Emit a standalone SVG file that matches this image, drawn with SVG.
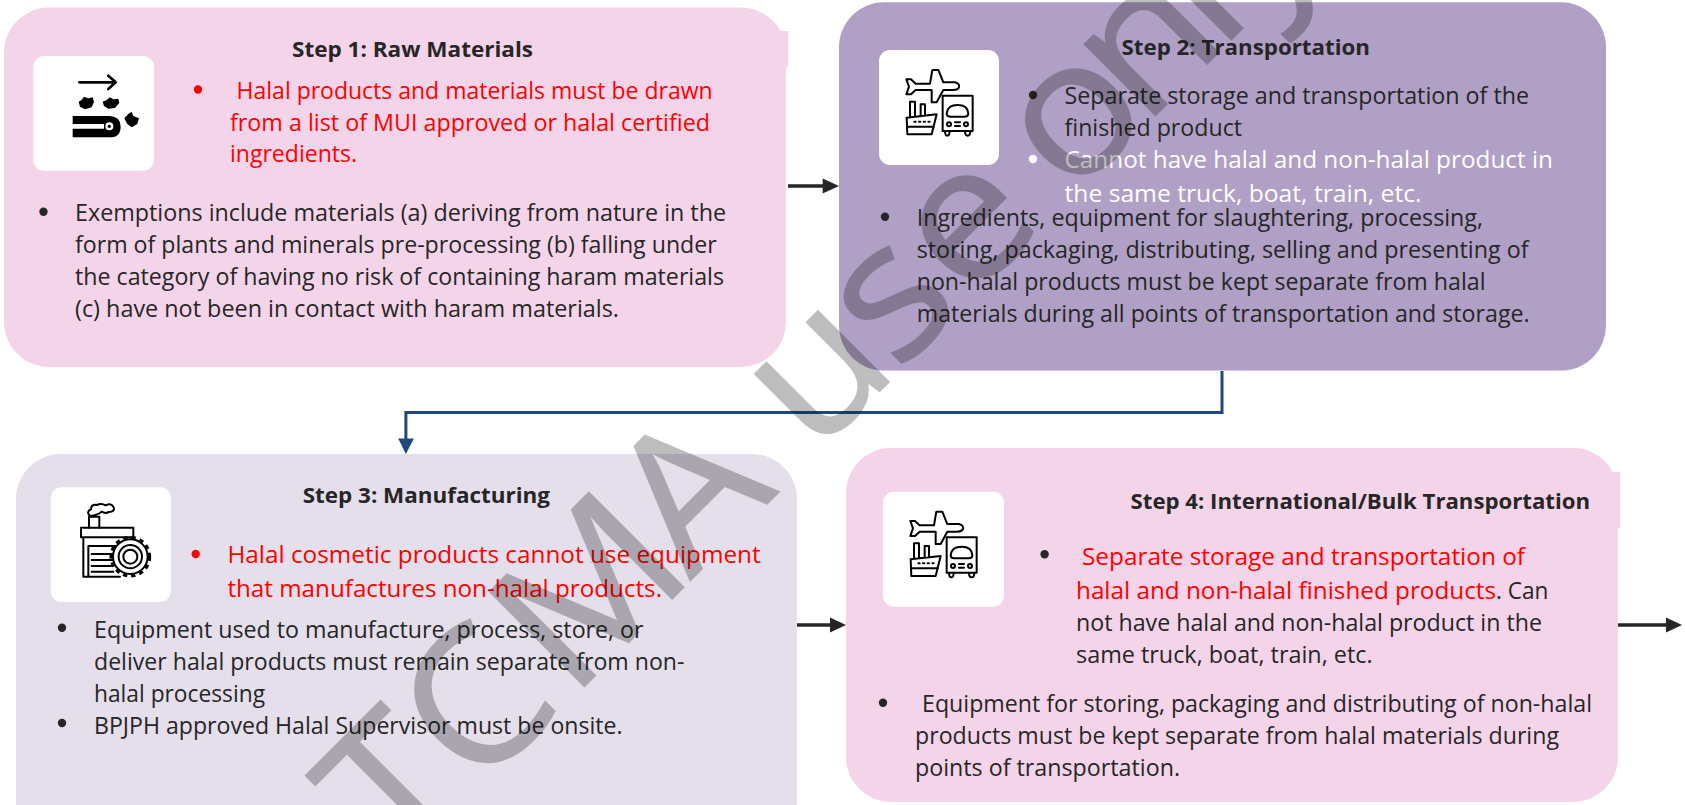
<svg xmlns="http://www.w3.org/2000/svg" width="1685" height="805" viewBox="0 0 1685 805">
<style>
text{font-family:"Open Sans","Noto Sans","Liberation Sans",sans-serif;font-size:23.2px;fill:#262626}
.t{font-weight:700;font-size:21.8px}
.r{fill:#ff0000}
.w{fill:#ffffff}
.pink{fill:#f4d4e9}
.purple{fill:#b0a0c5}
.lav{fill:#e4dfeb}
.tile{fill:#ffffff}
.ic{fill:none;stroke:#000;stroke-width:6;stroke-linejoin:round;stroke-linecap:round}
text.wm{font-size:188px;fill:#101010;stroke:#101010;stroke-width:1.5;opacity:.27}
.bk{fill:#262626}
.conn{fill:none;stroke:#262626;stroke-width:3.3}
.blue{fill:none;stroke:#1f497d;stroke-width:3}
</style>
<defs>
<g id="transport">
<path class="ic" d="M94 103L108 103L122 116L165 116L172 75L190 75L205 112L240 112Q255 116 252 127Q248 135 235 135L205 135L185 172L170 172L170 135L122 135L108 148L94 148L102 125Z"/>
<path class="ic" d="M105 215V170H120V215M137 212V178H150V210M95 218L185 208L170 268H97ZM97 245H177"/>
<path class="ic" stroke-dasharray="4 10" d="M118 230H165"/>
<path class="ic" d="M203 152H293V258H203ZM215 205Q218 180 248 180Q278 180 280 205Q280 215 270 215H225Q215 215 215 205ZM240 232H255M240 243H255M210 258Q210 272 217 272Q224 272 224 258M270 258Q270 272 278 272Q286 272 286 258"/>
<circle class="ic" cx="222" cy="238" r="6"/>
<circle class="ic" cx="273" cy="238" r="6"/>
</g>
</defs>

<g id="connectors">
<path class="conn" d="M788 186H824"/>
<path class="bk" d="M822.7 178.5L839 186L822.7 193.5Z"/>
<path class="blue" d="M1222 371V412.5H405.9V440"/>
<path d="M398.2 438.4H413.9L405.9 454Z" fill="#1f497d"/>
<path class="conn" d="M797 625H832"/>
<path class="bk" d="M830 617.5L846 625L830 632.5Z"/>
<path class="conn" d="M1618 625H1668"/>
<path class="bk" d="M1666 617.5L1682 625L1666 632.5Z"/>
</g>

<g id="step2">
<rect class="purple" x="839" y="2.3" width="767" height="368.3" rx="45"/>
<rect class="tile" x="879" y="50" width="120" height="115" rx="11"/>
<use href="#transport" transform="translate(875 45) scale(.3333)"/>
<text class="t" x="1121.5" y="55" textLength="248.5" lengthAdjust="spacingAndGlyphs">Step 2: Transportation</text>
<circle class="bk" cx="1033" cy="95" r="4.2"/>
<text x="1064.5" y="104" textLength="464.5" lengthAdjust="spacingAndGlyphs">Separate storage and transportation of the</text>
<text x="1064.5" y="136" textLength="177.5" lengthAdjust="spacingAndGlyphs">finished product</text>
<circle class="w" cx="1033" cy="159" r="4.2"/>
<text class="w" x="1064.5" y="168.3" textLength="488.5" lengthAdjust="spacingAndGlyphs">Cannot have halal and non-halal product in</text>
<text class="w" x="1064.5" y="201.7" textLength="357" lengthAdjust="spacingAndGlyphs">the same truck, boat, train, etc.</text>
<circle class="bk" cx="885" cy="216.7" r="4.2"/>
<text x="916.7" y="226" textLength="566.3" lengthAdjust="spacingAndGlyphs">Ingredients, equipment for slaughtering, processing,</text>
<text x="916.7" y="258" textLength="611.8" lengthAdjust="spacingAndGlyphs">storing, packaging, distributing, selling and presenting of</text>
<text x="916.7" y="290" textLength="568.8" lengthAdjust="spacingAndGlyphs">non-halal products must be kept separate from halal</text>
<text x="916.7" y="321.7" textLength="612.9" lengthAdjust="spacingAndGlyphs">materials during all points of transportation and storage.</text>
</g>

<g id="step3">
<rect class="lav" x="16" y="454" width="781" height="400" rx="45"/>
<rect class="tile" x="50.7" y="487.3" width="120.3" height="114.7" rx="11"/>
<g transform="translate(45 480) scale(.3333)">
<path class="ic" d="M132 143V110H163V143M135 108Q122 95 138 88Q138 72 155 75Q170 68 182 76Q200 68 206 82Q210 96 192 96Q180 102 170 95Q160 105 135 108Z"/>
<path class="ic" d="M108 143H265V172H108ZM115 172V290H225M130 290V198H212M140 222H205M140 240H205M140 258H205M140 275H205"/>
<circle cx="256" cy="230" r="52" fill="#fff" stroke="#000" stroke-width="6"/>
<circle cx="256" cy="230" r="58" fill="none" stroke="#000" stroke-width="9" stroke-dasharray="13 12"/>
<circle cx="256" cy="230" r="35" fill="none" stroke="#000" stroke-width="6"/>
<circle cx="256" cy="230" r="21" fill="none" stroke="#000" stroke-width="6"/>
</g>
<text class="t" x="302.7" y="503" textLength="247.3" lengthAdjust="spacingAndGlyphs">Step 3: Manufacturing</text>
<circle style="fill:#f00" cx="195.7" cy="554" r="4.2"/>
<text class="r" x="227.4" y="563.3" textLength="533.3" lengthAdjust="spacingAndGlyphs">Halal cosmetic products cannot use equipment</text>
<text class="r" x="227.4" y="596.7" textLength="434.6" lengthAdjust="spacingAndGlyphs">that manufactures non-halal products.</text>
<circle class="bk" cx="62" cy="627.7" r="4.2"/>
<text x="94" y="638" textLength="549.5" lengthAdjust="spacingAndGlyphs">Equipment used to manufacture, process, store, or</text>
<text x="94" y="670" textLength="590.4" lengthAdjust="spacingAndGlyphs">deliver halal products must remain separate from non-</text>
<text x="94" y="701.7" textLength="171" lengthAdjust="spacingAndGlyphs">halal processing</text>
<circle class="bk" cx="62" cy="723" r="4.2"/>
<text x="94" y="734" textLength="528.6" lengthAdjust="spacingAndGlyphs">BPJPH approved Halal Supervisor must be onsite.</text>
</g>

<g id="step4">
<rect class="pink" x="846" y="448" width="772" height="354" rx="45"/>
<rect class="pink" x="1600" y="472" width="20" height="56"/>
<rect class="tile" x="883" y="491.7" width="121" height="115" rx="11"/>
<use href="#transport" transform="translate(879 486.7) scale(.3333)"/>
<text class="t" x="1130.6" y="508.7" textLength="459.4" lengthAdjust="spacingAndGlyphs">Step 4: International/Bulk Transportation</text>
<circle class="bk" cx="1044.6" cy="554.3" r="4.2"/>
<text class="r" x="1082" y="565" textLength="443" lengthAdjust="spacingAndGlyphs">Separate storage and transportation of</text>
<text class="r" x="1076" y="599" textLength="420" lengthAdjust="spacingAndGlyphs">halal and non-halal finished products</text>
<text x="1496" y="599" textLength="52.4" lengthAdjust="spacingAndGlyphs">. Can</text>
<text x="1076" y="631" textLength="466" lengthAdjust="spacingAndGlyphs">not have halal and non-halal product in the</text>
<text x="1076" y="663" textLength="296.6" lengthAdjust="spacingAndGlyphs">same truck, boat, train, etc.</text>
<circle class="bk" cx="883" cy="702.7" r="4.2"/>
<text x="922" y="712" textLength="670" lengthAdjust="spacingAndGlyphs">Equipment for storing, packaging and distributing of non-halal</text>
<text x="915" y="744" textLength="644" lengthAdjust="spacingAndGlyphs">products must be kept separate from halal materials during</text>
<text x="915" y="776" textLength="265" lengthAdjust="spacingAndGlyphs">points of transportation.</text>
</g>

<g id="watermark">
<text class="wm" transform="translate(399 872) rotate(-45) scale(1.06 1)" x="0.4 103.3 229.2 388.6 520 554.8 665.4 758.8 875 897.3 993.4 1094.4 1146.2">TCMA use only</text>
</g>

<g id="step1">
<rect class="pink" x="4" y="7.5" width="782" height="359.5" rx="45"/>
<rect class="pink" x="770" y="31" width="18" height="36"/>
<rect class="tile" x="33.3" y="56" width="120.7" height="114.7" rx="11"/>
<g transform="translate(30 50) scale(.3333)">
<path class="ic" style="stroke-width:8" d="M148 97H255M235 77L257 97L235 117"/>
<path d="M146 155L155 150L162 140L175 145L188 142L192 155L185 172L165 178L150 170Z"/>
<path d="M218 155L230 150L240 142L250 148L265 146L268 158L255 174L235 176L222 168Z"/>
<path d="M283 205L295 192L305 185L310 198L327 205L322 222L305 232L292 222Z"/>
<path d="M128 198H240Q272 200 272 230Q272 262 240 262H128V236H222V222H128Z"/>
<circle cx="238" cy="229" r="12" fill="#fff"/><circle cx="238" cy="229" r="5"/>
</g>
<text class="t" x="292" y="57" textLength="241" lengthAdjust="spacingAndGlyphs">Step 1: Raw Materials</text>
<circle style="fill:#f00" cx="198" cy="89.5" r="4.2"/>
<text class="r" x="236.6" y="99" textLength="476" lengthAdjust="spacingAndGlyphs">Halal products and materials must be drawn</text>
<text class="r" x="230" y="130.7" textLength="480" lengthAdjust="spacingAndGlyphs">from a list of MUI approved or halal certified</text>
<text class="r" x="230" y="162.3" textLength="127" lengthAdjust="spacingAndGlyphs">ingredients.</text>
<circle class="bk" cx="43.5" cy="211.7" r="4.2"/>
<text x="75" y="220.7" textLength="651" lengthAdjust="spacingAndGlyphs">Exemptions include materials (a) deriving from nature in the</text>
<text x="75" y="252.7" textLength="641.7" lengthAdjust="spacingAndGlyphs">form of plants and minerals pre-processing (b) falling under</text>
<text x="75" y="285" textLength="649" lengthAdjust="spacingAndGlyphs">the category of having no risk of containing haram materials</text>
<text x="75" y="316.7" textLength="544" lengthAdjust="spacingAndGlyphs">(c) have not been in contact with haram materials.</text>
</g>
</svg>
